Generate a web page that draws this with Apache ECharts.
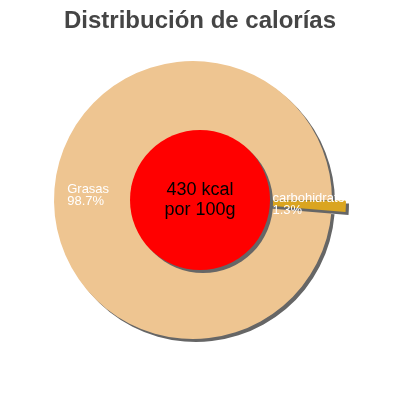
<!DOCTYPE html>
<html>
<head>
<meta charset="utf-8">
<script src="https://cdn.jsdelivr.net/npm/echarts@6/dist/echarts.min.js"></script>
<style>
  html, body { margin: 0; padding: 0; background: #fff; }
  #chart { width: 400px; height: 400px; }
</style>
</head>
<body>
<div id="chart"></div>
<script>
// Data
const titleText = 'Distribución de calorías';
const categories = ['carbohidratos', 'Grasas'];
const percentages = [1.3, 98.7];
const sliceColors = ['#DAA520', '#EEC591'];
const centerLines = ['430 kcal', 'por 100g'];

const FONT = '"Liberation Sans", Arial, sans-serif';
const LABEL_SIZE = 13;
const LABEL_LH = 12;
const SELECTED_OFFSET = 14;
const LABEL_RADIUS_RATIO = 0.755;

const chart = echarts.init(document.getElementById('chart'), null, { renderer: 'canvas' });

const pieData = categories.map((name, i) => ({
  name: name,
  value: percentages[i],
  selected: i === 0,
  itemStyle: { color: sliceColors[i] }
}));

chart.setOption({
  animation: false,
  backgroundColor: '#ffffff',
  title: {
    text: titleText,
    left: 'center',
    top: 4,
    textStyle: { fontFamily: FONT, fontSize: 24, fontWeight: 'bold', color: '#454545' }
  },
  series: [
    {
      type: 'pie',
      center: [193, 200],
      radius: [0, 139],
      startAngle: 0,
      clockwise: true,
      selectedMode: 'single',
      selectedOffset: SELECTED_OFFSET,
      silent: true,
      itemStyle: {
        borderWidth: 0,
        shadowColor: '#666666',
        shadowBlur: 0,
        shadowOffsetX: 3,
        shadowOffsetY: 3
      },
      label: { show: false },
      labelLine: { show: false },
      data: pieData
    },
    {
      type: 'pie',
      center: [200, 200],
      radius: [0, 70],
      silent: true,
      z: 5,
      itemStyle: {
        color: '#FF0000',
        borderWidth: 0,
        shadowColor: '#666666',
        shadowBlur: 0,
        shadowOffsetX: 3,
        shadowOffsetY: 3
      },
      label: {
        show: true,
        position: 'center',
        color: '#000000',
        fontFamily: FONT,
        fontSize: 18,
        lineHeight: 20,
        formatter: () => centerLines.join('\n')
      },
      labelLine: { show: false },
      data: [{ name: 'total', value: 1 }]
    }
  ]
});

// Slice labels placed from the pie's own computed sector layout
const measureCtx = document.createElement('canvas').getContext('2d');
measureCtx.font = LABEL_SIZE + 'px ' + FONT;
const pieSeries = chart.getModel().getSeriesByIndex(0);
const pieList = pieSeries.getData();
const labelEls = [];
categories.forEach((name, i) => {
  const lay = pieList.getItemLayout(i);
  const mid = (lay.startAngle + lay.endAngle) / 2;
  const sel = pieData[i].selected ? SELECTED_OFFSET : 0;
  const rr = lay.r0 + (lay.r - lay.r0) * LABEL_RADIUS_RATIO;
  const ax = lay.cx + Math.cos(mid) * (rr + sel);
  const ay = lay.cy + Math.sin(mid) * (rr + sel);
  const lines = [name, percentages[i] + '%'];
  const w = Math.max.apply(null, lines.map(l => measureCtx.measureText(l).width));
  labelEls.push({
    type: 'text',
    z: 100,
    silent: true,
    x: ax - w / 2,
    y: ay,
    style: {
      text: lines.join('\n'),
      fill: '#ffffff',
      fontSize: LABEL_SIZE,
      fontFamily: FONT,
      lineHeight: LABEL_LH,
      align: 'left',
      verticalAlign: 'middle'
    }
  });
});
chart.setOption({ graphic: { elements: labelEls } });
</script>
</body>
</html>
